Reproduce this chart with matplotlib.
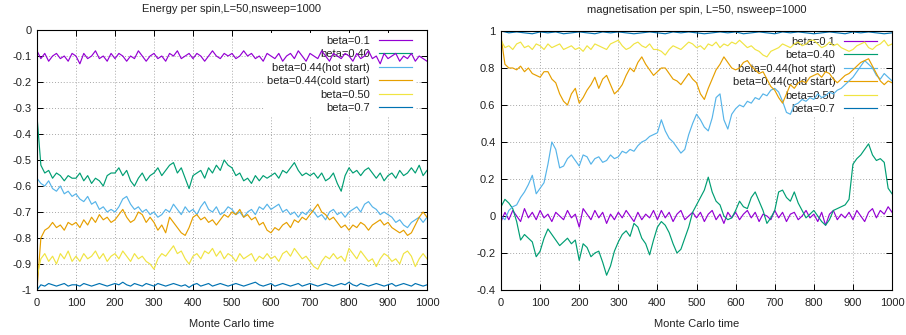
import numpy as np
import matplotlib
matplotlib.use("Agg")
import matplotlib.pyplot as plt
from matplotlib.ticker import MultipleLocator, FormatStrFormatter

plt.rcParams['font.family'] = ['Liberation Sans', 'DejaVu Sans']
plt.rcParams['axes.unicode_minus'] = False

labels = ["beta=0.1", "beta=0.40", "beta=0.44(hot start)",
          "beta=0.44(cold start)", "beta=0.50", "beta=0.7"]
colors = ["#9400d3", "#009e73", "#56b4e9", "#e69f00", "#f0e442", "#0072b2"]

# sample times (every 10 / 20 sweeps)
t10 = np.arange(0, 1001, 10)
t20 = np.arange(0, 1001, 20)

# ---- energy per spin ----
e_b01 = [-0.08, -0.11, -0.09, -0.12, -0.10, -0.09, -0.11, -0.10, -0.12, -0.09,
         -0.10, -0.13, -0.09, -0.11, -0.10, -0.08, -0.11, -0.10, -0.12, -0.09,
         -0.11, -0.09, -0.10, -0.12, -0.10, -0.11, -0.08, -0.10, -0.12, -0.10,
         -0.09, -0.11, -0.10, -0.12, -0.09, -0.10, -0.08, -0.11, -0.10, -0.09,
         -0.11, -0.09, -0.10, -0.12, -0.10, -0.08, -0.10, -0.11, -0.09, -0.10,
         -0.09, -0.11, -0.10, -0.08, -0.10, -0.09, -0.11, -0.10, -0.12, -0.09,
         -0.10, -0.11, -0.09, -0.12, -0.10, -0.09, -0.11, -0.08, -0.10, -0.12,
         -0.09, -0.10, -0.11, -0.08, -0.10, -0.12, -0.09, -0.10, -0.11, -0.09,
         -0.10, -0.12, -0.09, -0.11, -0.10, -0.08, -0.11, -0.10, -0.13, -0.09,
         -0.11, -0.10, -0.09, -0.12, -0.10, -0.11, -0.09, -0.12, -0.10, -0.11,
         -0.12]
e_b040 = [-0.33, -0.52, -0.55, -0.54, -0.57, -0.55, -0.56, -0.58, -0.56, -0.57,
          -0.57, -0.55, -0.58, -0.56, -0.59, -0.57, -0.58, -0.60, -0.56, -0.55,
          -0.55, -0.53, -0.56, -0.54, -0.58, -0.60, -0.57, -0.55, -0.58, -0.56,
          -0.55, -0.53, -0.56, -0.54, -0.52, -0.51, -0.55, -0.53, -0.57, -0.61,
          -0.56, -0.55, -0.54, -0.57, -0.53, -0.55, -0.52, -0.54, -0.50, -0.52,
          -0.53, -0.56, -0.55, -0.58, -0.57, -0.59, -0.56, -0.58, -0.56, -0.57,
          -0.56, -0.55, -0.57, -0.54, -0.55, -0.53, -0.51, -0.54, -0.56, -0.55,
          -0.56, -0.55, -0.57, -0.55, -0.58, -0.57, -0.55, -0.59, -0.62, -0.56,
          -0.53, -0.55, -0.54, -0.56, -0.54, -0.53, -0.55, -0.57, -0.55, -0.58,
          -0.56, -0.55, -0.57, -0.54, -0.56, -0.55, -0.53, -0.55, -0.52, -0.56,
          -0.54]
e_hot = [-0.57, -0.59, -0.60, -0.58, -0.61, -0.62, -0.60, -0.63, -0.62, -0.64,
         -0.63, -0.65, -0.66, -0.64, -0.67, -0.66, -0.69, -0.68, -0.70, -0.69,
         -0.70, -0.68, -0.65, -0.64, -0.67, -0.69, -0.68, -0.70, -0.69, -0.71,
         -0.70, -0.72, -0.71, -0.69, -0.70, -0.67, -0.69, -0.71, -0.68, -0.70,
         -0.69, -0.71, -0.68, -0.66, -0.69, -0.70, -0.68, -0.71, -0.70, -0.68,
         -0.69, -0.71, -0.70, -0.72, -0.70, -0.69, -0.71, -0.68, -0.69, -0.67,
         -0.69, -0.68, -0.67, -0.70, -0.69, -0.71, -0.70, -0.72, -0.70, -0.71,
         -0.69, -0.70, -0.72, -0.71, -0.73, -0.70, -0.69, -0.71, -0.70, -0.72,
         -0.70, -0.69, -0.68, -0.70, -0.67, -0.66, -0.68, -0.69, -0.71, -0.70,
         -0.71, -0.72, -0.74, -0.73, -0.75, -0.76, -0.74, -0.73, -0.72, -0.74,
         -0.72]
e_cold = [-1.00, -0.80, -0.77, -0.76, -0.74, -0.76, -0.75, -0.77, -0.74, -0.75,
          -0.74, -0.76, -0.73, -0.75, -0.72, -0.74, -0.71, -0.73, -0.72, -0.74,
          -0.73, -0.71, -0.69, -0.72, -0.74, -0.73, -0.70, -0.71, -0.74, -0.72,
          -0.74, -0.77, -0.75, -0.78, -0.72, -0.74, -0.76, -0.78, -0.79, -0.76,
          -0.72, -0.71, -0.73, -0.72, -0.74, -0.73, -0.75, -0.73, -0.71, -0.72,
          -0.70, -0.71, -0.69, -0.72, -0.71, -0.73, -0.72, -0.75, -0.74, -0.77,
          -0.78, -0.76, -0.77, -0.75, -0.74, -0.76, -0.73, -0.74, -0.72, -0.73,
          -0.71, -0.69, -0.67, -0.70, -0.71, -0.73, -0.72, -0.74, -0.76, -0.75,
          -0.77, -0.75, -0.76, -0.74, -0.75, -0.77, -0.75, -0.74, -0.73, -0.75,
          -0.74, -0.76, -0.77, -0.78, -0.77, -0.79, -0.78, -0.75, -0.72, -0.70,
          -0.72]
e_b050 = [-0.95, -0.88, -0.86, -0.89, -0.87, -0.90, -0.86, -0.88, -0.85, -0.89,
          -0.87, -0.89, -0.86, -0.88, -0.87, -0.85, -0.88, -0.86, -0.89, -0.87,
          -0.86, -0.88, -0.85, -0.87, -0.89, -0.86, -0.88, -0.87, -0.89, -0.90,
          -0.92, -0.88, -0.86, -0.87, -0.85, -0.83, -0.86, -0.85, -0.88, -0.90,
          -0.87, -0.86, -0.88, -0.85, -0.86, -0.84, -0.87, -0.85, -0.88, -0.86,
          -0.87, -0.89, -0.86, -0.88, -0.87, -0.86, -0.89, -0.87, -0.88, -0.86,
          -0.88, -0.87, -0.89, -0.86, -0.85, -0.87, -0.84, -0.86, -0.88, -0.87,
          -0.89, -0.91, -0.92, -0.89, -0.87, -0.88, -0.86, -0.88, -0.87, -0.89,
          -0.84, -0.86, -0.88, -0.85, -0.87, -0.89, -0.88, -0.91, -0.88, -0.86,
          -0.87, -0.89, -0.88, -0.90, -0.86, -0.85, -0.87, -0.91, -0.88, -0.86,
          -0.88]
e_b07 = [-1.00, -0.98, -0.985, -0.975, -0.98, -0.985, -0.98, -0.975, -0.985, -0.98,
         -0.98, -0.985, -0.975, -0.98, -0.985, -0.98, -0.975, -0.98, -0.985, -0.98,
         -0.975, -0.98, -0.97, -0.98, -0.985, -0.975, -0.98, -0.985, -0.975, -0.98,
         -0.985, -0.975, -0.98, -0.985, -0.98, -0.975, -0.98, -0.985, -0.98, -0.99,
         -0.98, -0.975, -0.985, -0.98, -0.975, -0.985, -0.98, -0.975, -0.98, -0.985,
         -0.98, -0.975, -0.98, -0.985, -0.98, -0.975, -0.97, -0.98, -0.985, -0.98,
         -0.975, -0.985, -0.98, -0.975, -0.98, -0.985, -0.98, -0.975, -0.985, -0.98,
         -0.975, -0.98, -0.985, -0.98, -0.975, -0.98, -0.985, -0.98, -0.975, -0.98,
         -0.97, -0.98, -0.985, -0.975, -0.98, -0.985, -0.98, -0.975, -0.98, -0.985,
         -0.98, -0.975, -0.985, -0.98, -0.975, -0.98, -0.985, -0.975, -0.98, -0.985,
         -0.98]

# ---- magnetisation per spin ----
m_b01 = [-0.03, 0.02, -0.02, 0.03, 0.00, -0.03, 0.04, -0.01, 0.02, -0.02,
         0.03, -0.01, 0.01, -0.03, 0.02, 0.00, -0.02, 0.03, -0.01, 0.01,
         -0.06, 0.04, 0.01, -0.02, 0.03, -0.01, 0.02, -0.04, 0.01, -0.02,
         0.02, -0.01, 0.03, 0.00, -0.03, 0.02, -0.02, 0.01, -0.01, 0.03,
         -0.02, 0.03, -0.01, 0.02, -0.03, 0.01, 0.03, -0.02, 0.00, 0.02,
         -0.01, 0.02, -0.03, 0.01, 0.03, -0.02, 0.01, -0.04, 0.02, -0.01,
         0.02, -0.02, 0.01, 0.03, -0.01, 0.02, -0.03, 0.01, 0.00, -0.02,
         0.03, -0.01, 0.02, -0.03, 0.01, 0.02, -0.02, 0.00, 0.03, -0.01,
         0.01, -0.03, 0.02, -0.05, 0.01, 0.03, -0.02, 0.01, -0.01, 0.02,
         -0.02, 0.03, 0.00, -0.03, 0.02, 0.04, -0.01, 0.03, 0.01, 0.05,
         0.02]
m_b040 = [0.05, 0.09, 0.07, 0.04, -0.03, -0.13, -0.10, -0.12, -0.14, -0.22,
          -0.19, -0.12, -0.07, -0.10, -0.13, -0.16, -0.14, -0.12, -0.15, -0.13,
          -0.24, -0.15, -0.17, -0.22, -0.20, -0.19, -0.25, -0.32, -0.27, -0.19,
          -0.14, -0.10, -0.08, -0.11, -0.04, -0.06, -0.12, -0.15, -0.21, -0.13,
          -0.06, -0.03, -0.05, -0.09, -0.15, -0.20, -0.18, -0.12, -0.06, 0.02,
          0.06, 0.10, 0.14, 0.21, 0.13, 0.08, 0.06, 0.00, -0.02, -0.01,
          0.03, 0.08, 0.05, 0.04, 0.10, 0.13, 0.08, 0.03, -0.04, -0.01,
          0.03, 0.13, 0.14, 0.10, 0.08, 0.13, 0.07, 0.03, -0.01, 0.01,
          0.03, 0.00, -0.03, -0.05, -0.02, 0.03, 0.04, 0.05, 0.06, 0.09,
          0.28, 0.31, 0.33, 0.36, 0.39, 0.33, 0.30, 0.31, 0.29, 0.15,
          0.12]
m_hot = [0.00, -0.02, 0.03, 0.05, 0.06, 0.10, 0.13, 0.17, 0.22, 0.12,
         0.15, 0.18, 0.28, 0.40, 0.36, 0.26, 0.27, 0.31, 0.33, 0.30,
         0.27, 0.33, 0.32, 0.28, 0.31, 0.32, 0.29, 0.30, 0.33, 0.31,
         0.32, 0.35, 0.34, 0.36, 0.35, 0.38, 0.40, 0.41, 0.43, 0.44,
         0.45, 0.52, 0.46, 0.42, 0.40, 0.37, 0.34, 0.36, 0.44, 0.50,
         0.55, 0.52, 0.48, 0.46, 0.53, 0.64, 0.66, 0.52, 0.47, 0.55,
         0.58, 0.60, 0.59, 0.62, 0.61, 0.64, 0.63, 0.66, 0.65, 0.68,
         0.69, 0.67, 0.62, 0.56, 0.55, 0.60, 0.61, 0.63, 0.62, 0.64,
         0.63, 0.66, 0.64, 0.65, 0.67, 0.66, 0.68, 0.69, 0.71, 0.73,
         0.75, 0.78, 0.81, 0.84, 0.82, 0.80, 0.76, 0.74, 0.77, 0.75,
         0.73]
m_cold = [0.97, 0.82, 0.80, 0.80, 0.79, 0.81, 0.78, 0.80, 0.77, 0.76,
          0.75, 0.78, 0.78, 0.74, 0.72, 0.66, 0.62, 0.60, 0.66, 0.69,
          0.61, 0.64, 0.68, 0.71, 0.75, 0.69, 0.74, 0.76, 0.71, 0.66,
          0.68, 0.71, 0.76, 0.80, 0.78, 0.83, 0.86, 0.82, 0.79, 0.76,
          0.78, 0.80, 0.80, 0.77, 0.74, 0.73, 0.71, 0.74, 0.77, 0.74,
          0.72, 0.66, 0.63, 0.69, 0.74, 0.79, 0.82, 0.86, 0.83, 0.80,
          0.79, 0.80, 0.83, 0.84, 0.81, 0.79, 0.77, 0.78, 0.74, 0.70,
          0.68, 0.64, 0.61, 0.66, 0.71, 0.69, 0.72, 0.73, 0.72, 0.75,
          0.76, 0.77, 0.75, 0.78, 0.77, 0.74, 0.72, 0.74, 0.76, 0.77,
          0.79, 0.81, 0.83, 0.84, 0.85, 0.81, 0.77, 0.73, 0.71, 0.73,
          0.72]
m_b050 = [0.95, 0.91, 0.92, 0.90, 0.93, 0.94, 0.91, 0.92, 0.90, 0.93,
          0.92, 0.90, 0.93, 0.91, 0.92, 0.93, 0.90, 0.91, 0.92, 0.90,
          0.91, 0.89, 0.92, 0.90, 0.93, 0.92, 0.91, 0.90, 0.93, 0.94,
          0.95, 0.92, 0.90, 0.91, 0.93, 0.94, 0.92, 0.91, 0.93, 0.90,
          0.90, 0.89, 0.87, 0.90, 0.92, 0.91, 0.90, 0.92, 0.94, 0.93,
          0.91, 0.92, 0.90, 0.93, 0.92, 0.94, 0.91, 0.93, 0.92, 0.94,
          0.93, 0.95, 0.93, 0.91, 0.92, 0.90, 0.89, 0.87, 0.86, 0.89,
          0.90, 0.91, 0.93, 0.92, 0.91, 0.93, 0.94, 0.92, 0.93, 0.95,
          0.95, 0.93, 0.91, 0.92, 0.94, 0.92, 0.93, 0.91, 0.90, 0.89,
          0.90, 0.92, 0.93, 0.94, 0.91, 0.90, 0.92, 0.93, 0.95, 0.92,
          0.93]
m_b07 = [1.00, 0.99, 0.995, 0.99, 0.985, 0.995, 0.99, 0.995, 0.985, 0.99,
         0.995, 0.99, 0.985, 0.995, 0.99, 0.995, 0.99, 0.985, 0.99, 0.995,
         0.99, 0.985, 0.995, 0.99, 0.995, 0.99, 0.985, 0.99, 0.995, 0.99,
         0.995, 0.985, 0.99, 0.995, 0.99, 0.985, 0.995, 0.99, 0.995, 0.99,
         0.985, 0.99, 0.995, 0.99, 0.985, 0.995, 0.99, 0.995, 0.99, 0.985,
         0.99]

energy = [e_b01, e_b040, e_hot, e_cold, e_b050, e_b07]
magnet = [m_b01, m_b040, m_hot, m_cold, m_b050, m_b07]

fig = plt.figure(figsize=(9.06, 3.35), dpi=100)
ax1 = fig.add_axes([0.0408, 0.1343, 0.4305, 0.7761])
ax2 = fig.add_axes([0.553, 0.1343, 0.4316, 0.7732])

txt = "#222222"


def style(ax, title, ymin, ymax, ystep):
    ax.set_xlim(0, 1000)
    ax.set_ylim(ymin, ymax)
    ax.xaxis.set_major_locator(MultipleLocator(100))
    ax.yaxis.set_major_locator(MultipleLocator(ystep))
    ax.yaxis.set_major_formatter(FormatStrFormatter('%g'))
    ax.set_axisbelow(True)
    ax.grid(True, color="#a8a8a8", linestyle=(0, (1, 2)), linewidth=0.7)
    ax.tick_params(direction='in', top=True, right=True, length=4,
                   width=0.7, labelsize=8, labelcolor=txt)
    ax.tick_params(axis='x', pad=6)
    ax.tick_params(axis='y', pad=4)
    for s in ax.spines.values():
        s.set_linewidth(0.8)
        s.set_color("#000000")
    ax.set_title(title, fontsize=8, color=txt, pad=13)
    ax.set_xlabel("Monte Carlo time", fontsize=8, color=txt, labelpad=8)
    leg = ax.legend(loc='upper right', bbox_to_anchor=(1 - 9 / 391, 1.0),
                    fontsize=8, markerfirst=False,
                    handlelength=3.0, handletextpad=0.8, labelspacing=0.32,
                    borderpad=0.2, borderaxespad=0.3, frameon=True,
                    facecolor='white', edgecolor='none', framealpha=1.0,
                    fancybox=False)
    leg.set_zorder(1)
    for t in leg.get_texts():
        t.set_color(txt)


for vals, lab, col in zip(energy, labels, colors):
    ax1.plot(t10, vals, color=col, lw=0.85, label=lab)

for vals, lab, col in zip(magnet, labels, colors):
    tt = t20 if len(vals) == len(t20) else t10
    ax2.plot(tt, vals, color=col, lw=0.85, label=lab)

style(ax1, "Energy per spin,L=50,nsweep=1000", -1, 0, 0.1)
style(ax2, "magnetisation per spin, L=50, nsweep=1000", -0.4, 1, 0.2)

fig.savefig("out.png", dpi=100)
